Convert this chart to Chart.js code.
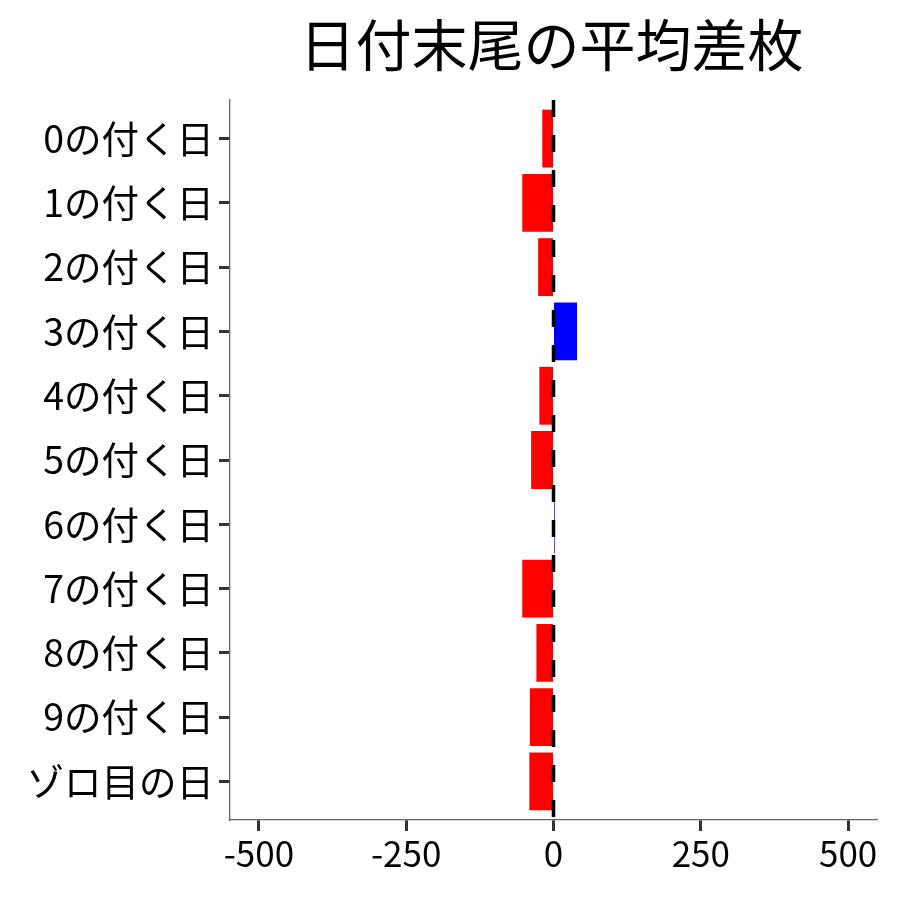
<!DOCTYPE html>
<html lang="ja">
<head>
<meta charset="UTF-8">
<title>日付末尾の平均差枚</title>
<script src="https://cdn.jsdelivr.net/npm/chart.js@4.4.0/dist/chart.umd.min.js"></script>
<style>
  html, body { margin: 0; padding: 0; background: #fff; }
  #wrap { width: 900px; height: 900px; }
</style>
</head>
<body>
<div id="wrap"><canvas id="chartCanvas" width="900" height="900"></canvas></div>
<script>
    // 軸・データ
    const chartTitle = '日付末尾の平均差枚';
    const categories = ['0の付く日', '1の付く日', '2の付く日', '3の付く日', '4の付く日',
                        '5の付く日', '6の付く日', '7の付く日', '8の付く日', '9の付く日', 'ゾロ目の日'];
    const diffValues = [-19, -53, -26, 40, -24, -38, 2, -53, -29, -40, -41];
    const xTicks = [-500, -250, 0, 250, 500];
    const xMin = -549;
    const xMax = 549;

    const FONT = "'Noto Sans CJK JP', 'Noto Sans', sans-serif";

    // プラスは青、マイナスは赤
    const barColors = diffValues.map(v => v >= 0 ? '#0000ff' : '#ff0000');

    // 0 の位置に破線
    const zeroLine = {
        id: 'zeroLine',
        afterDatasetsDraw(chart) {
            const { ctx, chartArea, scales } = chart;
            const x = scales.x.getPixelForValue(0);
            ctx.save();
            ctx.strokeStyle = '#000';
            ctx.lineWidth = 3.5;
            ctx.setLineDash([17, 18]);
            ctx.beginPath();
            ctx.moveTo(x, chartArea.top);
            ctx.lineTo(x, chartArea.bottom);
            ctx.stroke();
            ctx.restore();
        }
    };

    // タイトルはプロット領域の中央に
    const plotTitle = {
        id: 'plotTitle',
        afterDraw(chart) {
            const { ctx, chartArea } = chart;
            ctx.save();
            ctx.fillStyle = '#000';
            ctx.font = `56px ${FONT}`;
            ctx.textAlign = 'center';
            ctx.textBaseline = 'middle';
            ctx.fillText(chartTitle, (chartArea.left + chartArea.right) / 2 - 2, 45);
            ctx.restore();
        }
    };

    const ctx = document.getElementById('chartCanvas').getContext('2d');
    new Chart(ctx, {
        type: 'bar',
        data: {
            datasets: [{
                data: diffValues.map((v, i) => ({ x: v, y: i })),
                backgroundColor: barColors,
                borderWidth: 0,
                categoryPercentage: 1,
                barPercentage: 0.9
            }]
        },
        options: {
            indexAxis: 'y',
            responsive: false,
            animation: false,
            layout: { padding: { top: 100, right: 23, left: 0, bottom: 0 } },
            plugins: {
                legend: { display: false },
                tooltip: { enabled: false }
            },
            scales: {
                x: {
                    type: 'linear',
                    min: xMin,
                    max: xMax,
                    offset: false,
                    afterBuildTicks: s => { s.ticks = xTicks.map(v => ({ value: v })); },
                    afterFit: s => { s.height = 80; },
                    grid: {
                        offset: false,
                        drawOnChartArea: false,
                        tickLength: 11,
                        tickWidth: 3,
                        tickColor: '#333'
                    },
                    border: { display: true, color: '#666', width: 1.3 },
                    ticks: {
                        color: '#000',
                        padding: 2,
                        maxRotation: 0,
                        font: { family: FONT, size: 35 }
                    }
                },
                y: {
                    type: 'linear',
                    reverse: true,
                    offset: false,
                    min: -0.6,
                    max: categories.length - 1 + 0.6,
                    afterBuildTicks: s => { s.ticks = categories.map((_, i) => ({ value: i })); },
                    afterFit: s => { s.width = 230; },
                    grid: {
                        offset: false,
                        drawOnChartArea: false,
                        tickLength: 11,
                        tickWidth: 3,
                        tickColor: '#333'
                    },
                    border: { display: true, color: '#666', width: 1.3 },
                    ticks: {
                        color: '#000',
                        padding: 5,
                        font: { family: FONT, size: 37.5 },
                        callback: v => categories[v]
                    }
                }
            }
        },
        plugins: [zeroLine, plotTitle]
    });
</script>
</body>
</html>
